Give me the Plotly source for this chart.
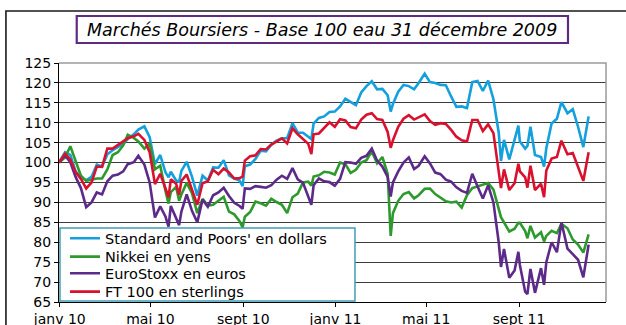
import plotly.graph_objects as go

dates = [
    "2009-12-31",
    "2010-01-08", "2010-01-15", "2010-01-22", "2010-01-29",
    "2010-02-05", "2010-02-12", "2010-02-19", "2010-02-26",
    "2010-03-05", "2010-03-12", "2010-03-19", "2010-03-26",
    "2010-04-01", "2010-04-09", "2010-04-15", "2010-04-23", "2010-04-30",
    "2010-05-07", "2010-05-14", "2010-05-21", "2010-05-25", "2010-05-28",
    "2010-06-04", "2010-06-08", "2010-06-11", "2010-06-18", "2010-06-25",
    "2010-07-02", "2010-07-09", "2010-07-16", "2010-07-23", "2010-07-30",
    "2010-08-06", "2010-08-13", "2010-08-20", "2010-08-27", "2010-08-31",
    "2010-09-03", "2010-09-10", "2010-09-17", "2010-09-24",
    "2010-10-01", "2010-10-08", "2010-10-15", "2010-10-22", "2010-10-29",
    "2010-11-05", "2010-11-12", "2010-11-19", "2010-11-26", "2010-11-30",
    "2010-12-03", "2010-12-10", "2010-12-17", "2010-12-24", "2010-12-31",
    "2011-01-07", "2011-01-14", "2011-01-21", "2011-01-28",
    "2011-02-04", "2011-02-11", "2011-02-18", "2011-02-25",
    "2011-03-04", "2011-03-11", "2011-03-15", "2011-03-18", "2011-03-25",
    "2011-04-01", "2011-04-08", "2011-04-15", "2011-04-21", "2011-04-29",
    "2011-05-06", "2011-05-13", "2011-05-20", "2011-05-27",
    "2011-06-03", "2011-06-10", "2011-06-17", "2011-06-24",
    "2011-07-01", "2011-07-08", "2011-07-15", "2011-07-22", "2011-07-29",
    "2011-08-05", "2011-08-08", "2011-08-12", "2011-08-19", "2011-08-26", "2011-08-31",
    "2011-09-02", "2011-09-09", "2011-09-12", "2011-09-16", "2011-09-22", "2011-09-30",
    "2011-10-04", "2011-10-07", "2011-10-14", "2011-10-21", "2011-10-27",
    "2011-11-04", "2011-11-11", "2011-11-18", "2011-11-25",
    "2011-12-02",
]

sp_dollars = [
    100,
    102.6, 101.9, 97.8, 96.2,
    95.6, 96.4, 99.5, 99.0,
    102.1, 103.1, 104.0, 104.7,
    105.9, 107.1, 108.3, 109.1, 106.4,
    99.6, 101.9, 97.5, 96.3, 97.7,
    95.5, 95.2, 97.9, 100.2, 96.5,
    91.7, 96.7, 95.5, 98.8, 98.7,
    100.6, 96.8, 96.0, 95.5, 94.1,
    99.1, 99.5, 100.9, 103.0,
    102.8, 104.5, 105.5, 106.1, 106.1,
    109.9, 107.5, 107.5, 106.6, 105.9,
    109.8, 111.2, 111.6, 112.7, 112.8,
    114.1, 116.0, 115.1, 114.4,
    117.6, 119.2, 120.4, 118.4,
    118.5, 116.9, 112.8, 114.7, 117.8,
    119.5, 119.2, 118.4, 120.0, 122.3,
    120.2, 120.0, 119.5, 119.4,
    116.6, 114.0, 114.1, 113.7,
    120.2, 120.5, 118.0, 120.6, 115.9,
    107.5, 100.4, 105.7, 100.8, 105.5, 109.3,
    105.3, 103.5, 104.2, 109.0, 101.9, 101.4,
    99.0, 103.6, 109.8, 111.0, 115.2,
    112.4, 113.4, 109.0, 103.9,
    111.6,
]

nikkei_yens = [
    100,
    101.3, 104.1, 100.4, 96.7,
    95.4, 95.7, 96.0, 96.0,
    98.3, 101.9, 102.6, 104.3,
    107.0, 106.2, 105.3, 103.5, 104.8,
    98.3, 99.2, 92.8, 89.7, 92.6,
    93.9, 90.4, 92.0, 94.9, 92.3,
    87.3, 90.9, 89.2, 89.4, 90.4,
    91.4, 87.7, 87.0, 85.3, 83.7,
    86.4, 87.6, 90.2, 89.8,
    89.2, 90.9, 90.1, 89.4, 87.3,
    91.3, 92.2, 95.0, 95.2, 94.2,
    96.5, 96.8, 97.7, 97.5, 97.0,
    100.0, 99.6, 97.4, 98.2,
    100.0, 100.6, 102.8, 99.8,
    101.4, 97.2, 81.6, 87.3, 90.4,
    92.1, 92.6, 91.0, 91.8, 93.4,
    93.5, 92.1, 91.1, 90.3,
    90.0, 90.2, 88.7, 91.8,
    93.6, 94.1, 94.6, 94.9, 93.2,
    88.2, 86.3, 85.0, 82.7, 83.4, 84.9,
    84.9, 82.8, 81.0, 84.1, 81.2, 82.5,
    80.2, 81.6, 82.9, 82.3, 84.6,
    83.5, 80.7, 79.4, 77.4,
    82.0,
]

eurostoxx_euros = [
    100,
    101.8, 100.1, 96.4, 93.6,
    88.8, 90.0, 92.5, 92.0,
    95.3, 96.7, 97.0, 97.8,
    99.6, 100.1, 101.7, 99.5, 95.0,
    86.2, 89.0, 86.4, 83.9, 89.1,
    86.1, 84.3, 87.7, 92.0, 87.9,
    85.0, 90.7, 88.9, 91.8, 92.5,
    93.7, 91.6, 89.9, 89.1, 88.4,
    93.5, 93.4, 94.1, 93.9,
    93.7, 94.3, 95.7, 96.7, 95.9,
    98.6, 95.8, 94.9, 91.1, 89.4,
    94.3, 96.0, 95.3, 95.1, 94.2,
    95.9, 100.1, 100.0, 99.7,
    101.2, 101.7, 103.5, 100.5,
    99.0, 96.4, 91.5, 95.0, 97.8,
    100.0, 101.3, 98.4, 99.2, 101.6,
    99.8, 97.5, 97.1, 95.7,
    95.2, 93.8, 92.9, 92.4,
    97.2, 94.0, 91.0, 94.3, 90.0,
    80.0, 73.8, 78.3, 71.1, 72.9, 77.6,
    74.3, 67.6, 67.0, 73.3, 67.3, 73.5,
    69.3, 75.0, 80.0, 77.5, 85.0,
    78.4, 77.0, 75.6, 71.2,
    79.4,
]

ft100_sterlings = [
    100,
    102.2, 100.8, 97.6, 95.9,
    93.5, 95.0, 99.0, 98.9,
    103.5, 103.5, 104.4, 105.4,
    106.1, 106.6, 107.2, 105.7, 102.6,
    94.6, 97.2, 93.5, 91.3, 95.8,
    94.7, 91.9, 95.4, 97.0, 93.2,
    89.4, 94.8, 95.3, 98.2, 97.1,
    98.5, 97.5, 96.0, 96.1, 96.5,
    100.5, 101.6, 101.8, 103.4,
    103.3, 104.5, 105.4, 106.1, 104.8,
    108.6, 107.1, 105.9, 104.7, 102.1,
    107.1, 107.3, 108.7, 110.1, 109.0,
    110.9, 110.6, 108.9, 108.6,
    110.8, 112.0, 112.4, 110.9,
    110.7, 107.7, 103.7, 105.6, 109.0,
    111.0, 111.9, 110.8, 111.3, 112.1,
    110.4, 109.5, 109.9, 109.7,
    108.2, 106.5, 105.6, 105.3,
    110.7, 110.7, 107.9, 109.6, 107.4,
    96.9, 93.6, 98.3, 93.1, 94.8, 99.7,
    97.8, 96.3, 93.7, 99.2, 93.1, 94.7,
    91.3, 98.0, 101.0, 101.4, 105.5,
    102.1, 102.4, 99.1, 95.4,
    102.6,
]

series_names = [
    "Standard and Poors' en dollars",
    "Nikkei en yens",
    "EuroStoxx en euros",
    "FT 100 en sterlings",
]
series_values = [sp_dollars, nikkei_yens, eurostoxx_euros, ft100_sterlings]
series_colors = ["#14a0dc", "#2e9a2e", "#5c2a88", "#d9102e"]

x_tick_vals = ["2010-01-01", "2010-05-01", "2010-09-01", "2011-01-01", "2011-05-01", "2011-09-01"]
x_tick_text = ["janv 10", "mai 10", "sept 10", "janv 11", "mai 11", "sept 11"]

title_text = "Marchés Boursiers - Base 100 eau 31 décembre 2009"

FONT = "DejaVu Sans"
legend_ids = ["legend", "legend2", "legend3", "legend4"]
legend_rows_y = [0.2665, 0.1895, 0.1201, 0.0431]

fig = go.Figure()
for name, vals, col, lid in zip(series_names, series_values, series_colors, legend_ids):
    fig.add_trace(go.Scatter(
        x=dates, y=vals, name=name, mode="lines",
        line=dict(color=col, width=2.6), legend=lid,
    ))

legend_layouts = {}
for lid, ly in zip(legend_ids, legend_rows_y):
    legend_layouts[lid] = dict(
        x=0.011, y=ly, xanchor="left", yanchor="middle",
        bgcolor="rgba(0,0,0,0)", borderwidth=0,
        font=dict(family=FONT, size=14.5, color="black"),
    )

fig.update_layout(
    width=626, height=325,
    margin=dict(l=59, r=20, t=63, b=23, autoexpand=False),
    paper_bgcolor="white", plot_bgcolor="white",
    showlegend=True,
    font=dict(family=FONT, size=14, color="black"),
    **legend_layouts,
)

fig.update_yaxes(
    range=[65, 125], tick0=65, dtick=5,
    showgrid=True, gridcolor="#3c3c3c", gridwidth=1,
    showline=True, linecolor="black", linewidth=1,
    ticks="outside", ticklen=4, tickcolor="black",
    tickfont=dict(family=FONT, size=14, color="black"),
    zeroline=False, automargin=False,
)
fig.update_xaxes(
    type="date", range=["2009-12-31", "2011-12-25"],
    tickvals=x_tick_vals, ticktext=x_tick_text,
    showgrid=False, showline=True, linecolor="black", linewidth=1,
    ticks="outside", ticklen=4, tickcolor="black",
    tickfont=dict(family=FONT, size=14, color="black"),
    zeroline=False, automargin=False,
)

# plot-area border (top and right, grey)
fig.add_shape(type="path", xref="paper", yref="paper",
              path="M 0,1 L 1,1 L 1,0", line=dict(color="#9a9a9a", width=1.5),
              layer="above")
# legend box
fig.add_shape(type="rect", xref="paper", yref="paper",
              x0=0.0018, x1=0.5411, y0=0.0042, y1=0.3096,
              line=dict(color="#3f9fb5", width=1.5), fillcolor="white", layer="above")
# outer chart frame
fig.add_shape(type="rect", xref="paper", yref="paper",
              x0=-0.097, x1=1.2, y0=-0.3, y1=1.2176,
              line=dict(color="#1a1a1a", width=1.6), layer="below")
# title box
fig.add_shape(type="rect", xref="paper", yref="paper",
              x0=0.0324, x1=0.9305, y0=1.0837, y1=1.1967,
              line=dict(color="#5e2a84", width=2.2), fillcolor="white", layer="below")
fig.add_annotation(
    xref="paper", yref="paper", x=0.4814, y=1.140, xanchor="center", yanchor="middle",
    text=title_text, showarrow=False,
    font=dict(family=FONT, size=17.5, color="black", style="italic"),
)

fig.write_html("out.html")
